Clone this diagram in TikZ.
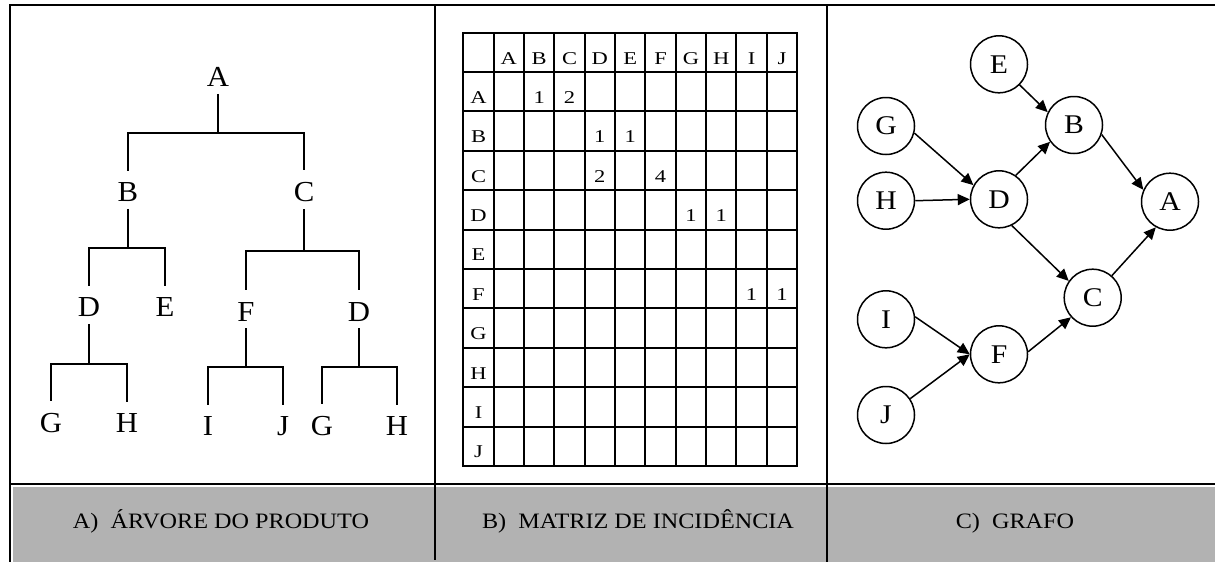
\documentclass[tikz,border=0pt]{standalone}
\usepackage{fontspec}
\setmainfont{Liberation Serif}
\newfontfamily\treefont[FakeStretch=1.06]{Liberation Serif}
\newfontfamily\cellfont[FakeStretch=1.25]{Liberation Serif}
\newfontfamily\vertexfont[FakeStretch=1.1]{Liberation Serif}
\newfontfamily\capfont[FakeStretch=1.1]{Liberation Serif}
\usetikzlibrary{arrows.meta}
\tikzset{
  letter/.style={anchor=base, inner xsep=0pt, inner ysep=7pt, font=\treefont\fontsize{29}{31}\selectfont},
  bar/.style={line width=2pt, shorten >=5pt},
  grid line/.style={line width=2pt, line cap=rect},
  cell/.style={anchor=base, inner sep=0pt, font=\cellfont\fontsize{18}{20}\selectfont},
  vertex/.style={circle, draw, line width=1.5pt, minimum size=57pt, inner sep=0pt, font=\vertexfont\fontsize{27}{29}\selectfont},
  arc/.style={line width=1.5pt, -{Triangle[length=12pt,width=11pt]}},
  frame/.style={line width=2pt},
  caption/.style={anchor=base, font=\capfont\fontsize{22}{24}\selectfont}
}
\begin{document}
\begin{tikzpicture}[x=1pt, y=-1pt]
  \fill[white] (0,0) rectangle (1215,562);
  \useasboundingbox (0,0) rectangle (1215,562);
  \fill[black!30] (12.5,487) rectangle (1215,562);
  \draw[frame] (10,562) -- (10,5) -- (1215,5);
  \draw[frame] (10,484) -- (1215,484);
  \draw[frame] (435,5) -- (435,560);
  \draw[frame] (826.7,5) -- (826.7,562);

  \node[letter] (tA) at (218,86.7) {A};
  \node[letter] (tB) at (128,201.7) {B};
  \node[letter] (tC) at (304,201.7) {C};
  \node[letter] (tD) at (89,316.7) {D};
  \node[letter] (tE) at (165,316.7) {E};
  \node[letter] (tF) at (246,321) {F};
  \node[letter] (tD2) at (359,321) {D};
  \node[letter] (tG) at (51,432.7) {G};
  \node[letter] (tH) at (127,432.7) {H};
  \node[letter] (tI) at (208,435.7) {I};
  \node[letter] (tJ) at (283,435.7) {J};
  \node[letter] (tG2) at (322,435.7) {G};
  \node[letter] (tH2) at (397,435.7) {H};
  \draw[bar] (tA.south) -- ++(0,39) -| (tB.north);
  \draw[bar] (tA.south) ++(0,39) -| (tC.north);
  \draw[bar] (tB.south) -- ++(0,39) -| (tD.north);
  \draw[bar] (tB.south) ++(0,39) -| (tE.north);
  \draw[bar] (tC.south) -- ++(0,42) -| (tF.north);
  \draw[bar] (tC.south) ++(0,42) -| (tD2.north);
  \draw[bar] (tD.south) -- ++(0,40) -| (tG.north);
  \draw[bar] (tD.south) ++(0,40) -| (tH.north);
  \draw[bar] (tF.south) -- ++(0,39) -| (tI.north);
  \draw[bar] (tF.south) ++(0,39) -| (tJ.north);
  \draw[bar] (tD2.south) -- ++(0,39) -| (tG2.north);
  \draw[bar] (tD2.south) ++(0,39) -| (tH2.north);

  \foreach \i in {0,...,11} {
    \draw[grid line] (463.3+30.34*\i,32.7) -- (463.3+30.34*\i,466);
    \draw[grid line] (463.3,32.7+39.39*\i) -- (797,32.7+39.39*\i);
  }
  \foreach \l [count=\i] in {A,B,C,D,E,F,G,H,I,J} {
    \node[cell] (col\l) at (478.5+30.34*\i,64) {\l};
    \node[cell] (row\l) at (478.5,64+39.39*\i) {\l};
  }
  \foreach \r/\c/\v in {1/2/1, 1/3/2, 2/4/1, 2/5/1, 3/4/2, 3/6/4, 4/7/1, 4/8/1, 6/9/1, 6/10/1}
    \node[cell] (m\r-\c) at (478.5+30.34*\c,64+39.39*\r) {\v};

  \node[vertex] (E) at (999,64.3) {E};
  \node[vertex] (G) at (886,126) {G};
  \node[vertex] (B) at (1074,125) {B};
  \node[vertex] (H) at (886,200.7) {H};
  \node[vertex] (D) at (999,199.3) {D};
  \node[vertex] (A) at (1170,201.7) {A};
  \node[vertex] (C) at (1092.7,297.7) {C};
  \node[vertex] (I) at (886,319.3) {I};
  \node[vertex] (F) at (999,354.3) {F};
  \node[vertex] (J) at (886,415) {J};
  \draw[arc] (G.-14) -- (D.151);
  \draw[arc] (H.east) -- (D.west);
  \draw[arc] (E.-45) -- (B.154);
  \draw[arc] (D.55) -- (B.215);
  \draw[arc] (B.-19) -- (A.156);
  \draw[arc] (D.-64) -- (C.145);
  \draw[arc] (C.49) -- (A.241);
  \draw[arc] (F.5) -- (C.222);
  \draw[arc] (I.5) -- (F.west);
  \draw[arc] (J.34) -- (F.west);

  \node[caption] (capA) at (221,528.7) {A)\ \ ÁRVORE DO PRODUTO};
  \node[caption] (capB) at (638,528.7) {B)\ \ MATRIZ DE INCIDÊNCIA};
  \node[caption] (capC) at (1015,528.7) {C)\ \ GRAFO};
\end{tikzpicture}
\end{document}
